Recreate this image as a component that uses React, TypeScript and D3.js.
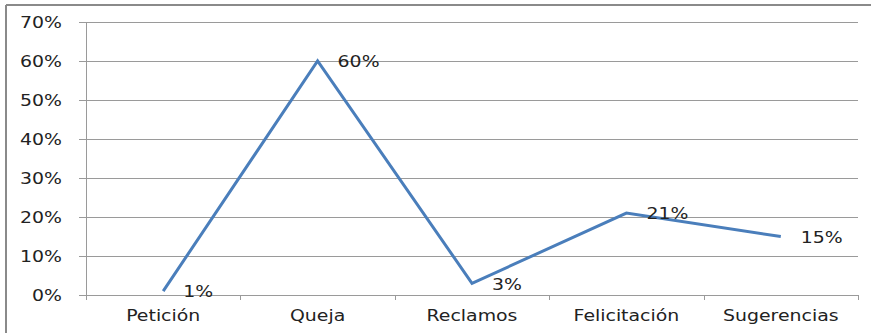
import React from "react";
import * as d3 from "d3";

const categories = ["Petición", "Queja", "Reclamos", "Felicitación", "Sugerencias"];
const values = [0.01, 0.6, 0.03, 0.21, 0.15];
const valueLabels = ["1%", "60%", "3%", "21%", "15%"];
const yTicks = [0, 0.1, 0.2, 0.3, 0.4, 0.5, 0.6, 0.7];

const W = 871;
const H = 333;
const FONT = "'DejaVu Sans', Verdana, sans-serif";
const SX = 1.26; // wide lettering

export default function App() {
  const x = d3.scaleBand<string>().domain(categories).range([86, 858]);
  const y = d3.scaleLinear().domain([0, 0.7]).range([295, 22]);
  const fmt = d3.format(".0%");

  const line = d3
    .line<number>()
    .x((_, i) => (x(categories[i]) as number) + x.bandwidth() / 2)
    .y((d) => y(d));

  const grid = "#9a9a9a";

  const wideText = (tx: number, ty: number, label: string, anchor: string, key?: string) => (
    <text
      key={key}
      transform={`translate(${tx},${ty}) scale(${SX},1)`}
      textAnchor={anchor}
      fontFamily={FONT}
      fontSize={15}
      fill="#222"
      dominantBaseline="central"
    >
      {label}
    </text>
  );

  return (
    <svg
      width={W}
      height={H}
      style={{ position: "absolute", left: 0, top: 0, background: "#fff" }}
    >
      {/* outer frame */}
      <line x1={6} y1={5} x2={W} y2={5} stroke="#8a8a8a" strokeWidth={2} />
      <line x1={6} y1={5} x2={6} y2={H} stroke="#8a8a8a" strokeWidth={2} />

      {/* horizontal gridlines and y ticks */}
      {yTicks.map((t) => (
        <g key={t}>
          <line x1={79} x2={858} y1={Math.round(y(t)) + 0.5} y2={Math.round(y(t)) + 0.5} stroke={grid} strokeWidth={1} />
          {wideText(62, y(t) + 1, fmt(t), "end")}
        </g>
      ))}

      {/* y axis */}
      <line x1={86.5} x2={86.5} y1={y(0.7)} y2={300} stroke={grid} strokeWidth={1} />

      {/* x tick marks at category boundaries */}
      {categories.map((c) => (
        <line
          key={c}
          x1={Math.round((x(c) as number) + x.bandwidth()) + 0.5}
          x2={Math.round((x(c) as number) + x.bandwidth()) + 0.5}
          y1={y(0)}
          y2={300}
          stroke={grid}
        />
      ))}

      {/* category labels */}
      {categories.map((c) =>
        wideText((x(c) as number) + x.bandwidth() / 2, 316, c, "middle", c)
      )}

      {/* series line */}
      <path d={line(values) || ""} fill="none" stroke="#4a7ebb" strokeWidth={3} strokeLinejoin="miter" />

      {/* data labels */}
      {values.map((v, i) =>
        wideText((x(categories[i]) as number) + x.bandwidth() / 2 + 20, y(v) + 1, valueLabels[i], "start", "l" + i)
      )}
    </svg>
  );
}
